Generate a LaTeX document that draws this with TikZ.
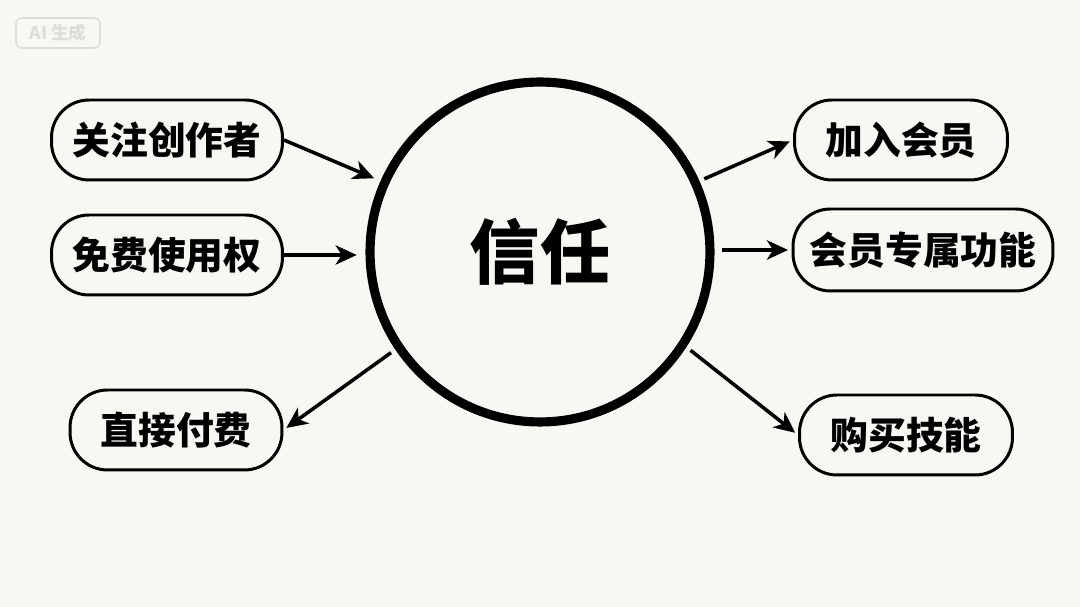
\documentclass[tikz,border=0pt]{standalone}
\usepackage{fontspec}
\newfontfamily\cjk{Noto Sans CJK SC}
\usetikzlibrary{arrows.meta}
\definecolor{bg}{HTML}{F8F7F3}
\definecolor{wm}{HTML}{DDDDDB}
\tikzset{
  px/.style={x=0.02cm,y=-0.02cm},
  pill/.style={draw=black, line width=1.7pt, rounded corners=0.75cm, minimum height=1.6cm, inner sep=0pt, font=\cjk\bfseries\fontsize{21.5pt}{24pt}\selectfont},
  arr/.style={line width=2pt, -{Stealth[length=12pt,width=11pt,inset=3.5pt]}},
  hub/.style={circle, draw=black, line width=5.2pt, minimum size=6.8cm, inner sep=0pt, font=\cjk\bfseries\fontsize{40pt}{44pt}\selectfont}
}
\begin{document}
\begin{tikzpicture}[px]
\fill[bg] (0,0) rectangle (1080,607);
\useasboundingbox (0,0) rectangle (1080,607);
% watermark
\node[draw=wm, line width=0.9pt, rounded corners=3pt, text=wm, minimum width=1.68cm, minimum height=0.6cm, inner sep=0pt, font=\cjk\bfseries\fontsize{10pt}{12pt}\selectfont] (wmk) at (58,33) {AI 生成};
% hub
\node[hub] (trust) at (540,252) {信任};
% left boxes
\node[pill, minimum width=4.62cm] (a) at (167,140) {关注创作者};
\node[pill, minimum width=4.62cm] (b) at (167,255) {免费使用权};
\node[pill, minimum width=4.24cm] (c) at (176,430) {直接付费};
% right boxes
\node[pill, minimum width=4.26cm] (d) at (901,140) {加入会员};
\node[pill, minimum width=5.2cm, minimum height=1.64cm] (e) at (923,250) {会员专属功能};
\node[pill, minimum width=4.26cm] (f) at (906,435) {购买技能};
% arrows
\draw[arr, shorten >=4pt] (a.east) -- (trust.156);
\draw[arr, shorten >=5pt] (b.east) -- (b.east -| trust.west);
\draw[arr, shorten <=3pt, shorten >=2pt] (trust.214) -- (c.east);
\draw[arr, shorten <=3pt, shorten >=2pt] (trust.24) -- (d.west);
\draw[arr, shorten <=4pt, shorten >=2pt] (e.west -| trust.east) -- (e.west);
\draw[arr, shorten <=3pt, shorten >=2pt] (trust.-33) -- (f.west);
\end{tikzpicture}
\end{document}
